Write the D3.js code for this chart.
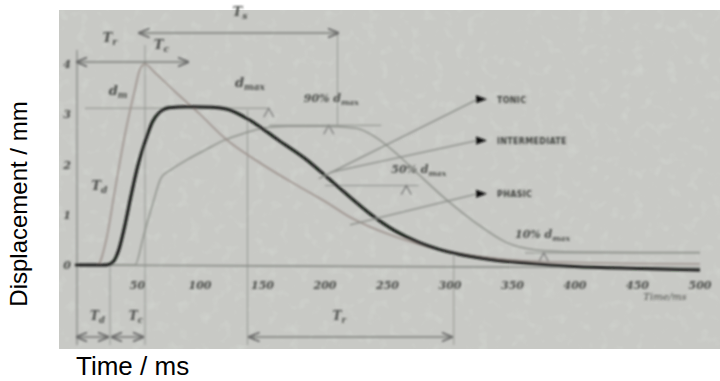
<!DOCTYPE html>
<html>
<head>
<meta charset="utf-8">
<script src="https://cdn.jsdelivr.net/npm/d3@7"></script>
<style>
  html, body { margin: 0; padding: 0; background: #fff; }
  svg { display: block; }
</style>
</head>
<body>
<div id="chart"></div>
<script>
// twitch response curves (time in ms, displacement in mm)
const mainT = [0, 25, 30, 35, 40, 45, 50, 56, 62, 68, 75, 90, 110, 122, 140, 163, 185, 202, 220, 237, 256, 275, 290, 310, 335, 360, 400, 450, 500];
const mainD = [0, 0, 0.05, 0.3, 0.8, 1.4, 1.95, 2.45, 2.85, 3.05, 3.13, 3.15, 3.14, 3.1, 2.88, 2.48, 2.1, 1.74, 1.35, 1.0, 0.68, 0.45, 0.32, 0.2, 0.1, 0.04, -0.03, -0.07, -0.1];

const phasicT = [0, 18, 25, 32, 40, 48, 52, 56, 63, 80, 100, 120, 150, 180, 203, 218, 252, 280, 310, 350, 400, 500];
const phasicD = [0, 0, 0.5, 1.5, 2.6, 3.5, 3.9, 4.0, 3.85, 3.45, 3.0, 2.52, 2.0, 1.55, 1.22, 0.98, 0.6, 0.38, 0.22, 0.1, 0.05, 0.02];

const tonicT = [0, 48, 55, 62, 69, 77, 90, 105, 119, 135, 150, 170, 200, 225, 240, 258, 275, 298, 320, 345, 369, 400, 450, 500];
const tonicD = [0, 0, 0.6, 1.2, 1.74, 1.9, 2.1, 2.3, 2.48, 2.62, 2.72, 2.76, 2.76, 2.72, 2.55, 2.2, 1.8, 1.28, 0.85, 0.45, 0.3, 0.26, 0.25, 0.25];

const xTicks = [50, 100, 150, 200, 250, 300, 350, 400, 450, 500];
const yTicks = [0, 1, 2, 3, 4];

// reference levels: level (mm), start/end time, marker time
const levelNames = ["d_max", "90% d_max", "50% d_max", "10% d_max"];
const levelValues = [3.12, 2.78, 1.58, 0.24];
const levelStart = [8, 155, 200, 360];
const levelEnd = [155, 245, 275, 500];
const levelMark = [155, 203, 265, 375];

const legendNames = ["TONIC", "INTERMEDIATE", "PHASIC"];
const legendLevels = [3.3, 2.48, 1.42];
const legendFromT = [195, 205, 220];
const legendFromD = [1.72, 1.85, 0.8];

const width = 720, height = 381;

const svg = d3.select("#chart").append("svg")
  .attr("width", width)
  .attr("height", height);

const defs = svg.append("defs");
defs.append("filter").attr("id", "blur")
  .append("feGaussianBlur").attr("stdDeviation", 0.8);
const noise = defs.append("filter").attr("id", "noise").attr("x", 0).attr("y", 0).attr("width", 1).attr("height", 1);
noise.append("feTurbulence").attr("type", "fractalNoise").attr("baseFrequency", 0.09).attr("numOctaves", 2).attr("seed", 4);
noise.append("feColorMatrix").attr("values", "0 0 0 0 0.76  0 0 0 0 0.82  0 0 0 0 0.76  0 0 0 1.6 -0.88");

// scanned picture area
svg.append("rect")
  .attr("x", 59).attr("y", 10).attr("width", 661).attr("height", 339)
  .attr("fill", "#c8c9c5");
svg.append("rect")
  .attr("x", 59).attr("y", 10).attr("width", 661).attr("height", 339)
  .attr("filter", "url(#noise)")
  .attr("opacity", 0.45);

const x = d3.scaleLinear().domain([0, 500]).range([75, 700]);
const y = d3.scaleLinear().domain([0, 4]).range([265, 64]);

const g = svg.append("g").attr("filter", "url(#blur)");
const ink = "#4a4c48";
const thin = "#8c8f8a";

// axes
g.append("line").attr("x1", 77).attr("x2", 77).attr("y1", 50).attr("y2", 345)
  .attr("stroke", thin).attr("stroke-width", 1.4);
g.append("line").attr("x1", x(0)).attr("x2", x(500)).attr("y1", y(0)).attr("y2", y(0) + 3)
  .attr("stroke", thin).attr("stroke-width", 1.6);

g.selectAll(".xt").data(xTicks).join("text")
  .attr("x", d => x(d)).attr("y", 289)
  .attr("text-anchor", "middle")
  .attr("font-family", "DejaVu Serif")
  .attr("font-style", "italic").attr("font-weight", "bold")
  .attr("font-size", 11).attr("fill", ink)
  .text(d => d);

g.selectAll(".yt").data(yTicks).join("text")
  .attr("x", 67).attr("y", d => y(d) + 4)
  .attr("text-anchor", "middle")
  .attr("font-family", "DejaVu Serif")
  .attr("font-style", "italic").attr("font-weight", "bold")
  .attr("font-size", 11).attr("fill", ink)
  .text(d => d);

g.append("text").attr("x", 665).attr("y", 300)
  .attr("text-anchor", "middle")
  .attr("font-family", "DejaVu Serif").attr("font-style", "italic")
  .attr("font-size", 10).attr("fill", ink)
  .text("Time/ms");

// vertical guide lines
const guideT = [28, 56, 138, 210, 303];
const guideTop = [265, 45, 110, 33, 255];
const guideBottom = [345, 345, 345, 125, 345];
guideT.forEach((t, i) => {
  g.append("line").attr("x1", x(t)).attr("x2", x(t))
    .attr("y1", guideTop[i]).attr("y2", guideBottom[i])
    .attr("stroke", thin).attr("stroke-width", 1)
    .attr("opacity", 0.85);
});

// arrows
defs.append("marker").attr("id", "ah").attr("viewBox", "0 0 10 10")
  .attr("refX", 9).attr("refY", 5).attr("markerWidth", 7).attr("markerHeight", 7)
  .attr("orient", "auto-start-reverse")
  .append("path").attr("d", "M0,1 L10,5 L0,9").attr("fill", "none").attr("stroke", "#666").attr("stroke-width", 1.5);

const arrowT1 = [50, 0, 0, 28, 138];
const arrowT2 = [212, 92, 28, 56, 303];
const arrowY = [33, 62, 337, 337, 337];
arrowT1.forEach((t, i) => {
  g.append("line")
    .attr("x1", x(t) + 2).attr("x2", x(arrowT2[i]) - 2)
    .attr("y1", arrowY[i]).attr("y2", arrowY[i])
    .attr("stroke", "#7a7c78").attr("stroke-width", 1.6)
    .attr("marker-start", "url(#ah)").attr("marker-end", "url(#ah)");
});

// reference levels with small carets
levelNames.forEach((name, i) => {
  g.append("line")
    .attr("x1", x(levelStart[i])).attr("x2", x(levelEnd[i]))
    .attr("y1", y(levelValues[i])).attr("y2", y(levelValues[i]))
    .attr("stroke", thin).attr("stroke-width", 1);
  const mx = x(levelMark[i]), my = y(levelValues[i]);
  g.append("path")
    .attr("d", `M${mx - 5},${my + 9} L${mx},${my} L${mx + 5},${my + 9}`)
    .attr("fill", "none").attr("stroke", "#777").attr("stroke-width", 1.2);
});

const labelAt = (t, d, txt, sub, size) => {
  const tx = g.append("text").attr("x", x(t)).attr("y", y(d))
    .attr("font-family", "DejaVu Serif").attr("font-style", "italic")
    .attr("font-weight", "bold").attr("font-size", size).attr("fill", ink);
  tx.append("tspan").text(txt);
  if (sub) tx.append("tspan").attr("dy", 3).attr("font-size", size * 0.7).text(sub);
};
labelAt(128, 3.55, "d", "max", 13);
labelAt(183, 3.25, "90% d", "max", 11);
labelAt(253, 1.83, "50% d", "max", 11);
labelAt(352, 0.53, "10% d", "max", 11);
labelAt(27, 3.38, "d", "m", 13);
labelAt(13, 1.5, "T", "d", 13);
labelAt(22, 4.43, "T", "r", 13);
labelAt(63, 4.3, "T", "c", 13);
labelAt(126, 4.95, "T", "s", 13);
labelAt(12, -1.1, "T", "d", 12);
labelAt(43, -1.1, "T", "c", 12);
labelAt(206, -1.1, "T", "r", 12);

// curves
const line = d3.line().curve(d3.curveMonotoneX)
  .x(d => x(d[0])).y(d => y(d[1]));

g.append("path").datum(d3.zip(tonicT, tonicD))
  .attr("d", line).attr("fill", "none")
  .attr("stroke", "#8f928c").attr("stroke-width", 1.5);
g.append("path").datum(d3.zip(phasicT, phasicD))
  .attr("d", line).attr("fill", "none")
  .attr("stroke", "#9c918c").attr("stroke-width", 1.6);
g.append("path").datum(d3.zip(mainT, mainD))
  .attr("d", line).attr("fill", "none")
  .attr("stroke", "#121512").attr("stroke-width", 3);

// legend with leader lines
legendNames.forEach((name, i) => {
  const ly = y(legendLevels[i]);
  g.append("line")
    .attr("x1", x(legendFromT[i])).attr("y1", y(legendFromD[i]))
    .attr("x2", 478).attr("y2", ly)
    .attr("stroke", "#888b86").attr("stroke-width", 1.3);
  g.append("path")
    .attr("d", `M476,${ly - 4} L487,${ly} L476,${ly + 4} Z`)
    .attr("fill", "#111");
  g.append("text").attr("x", 497).attr("y", ly + 3.5)
    .attr("font-family", "DejaVu Sans").attr("font-weight", "bold")
    .attr("font-size", 8).attr("letter-spacing", 0.3).attr("fill", "#3e403c")
    .text(name);
});

// outer axis titles
svg.append("text")
  .attr("transform", "translate(27,204) rotate(-90)")
  .attr("text-anchor", "middle")
  .attr("font-family", "Liberation Sans, Arial, sans-serif")
  .attr("font-size", 24).attr("fill", "#000")
  .text("Displacement / mm");
svg.append("text")
  .attr("x", 76).attr("y", 375)
  .attr("font-family", "Liberation Sans, Arial, sans-serif")
  .attr("font-size", 26).attr("fill", "#000")
  .text("Time / ms");
</script>
</body>
</html>
